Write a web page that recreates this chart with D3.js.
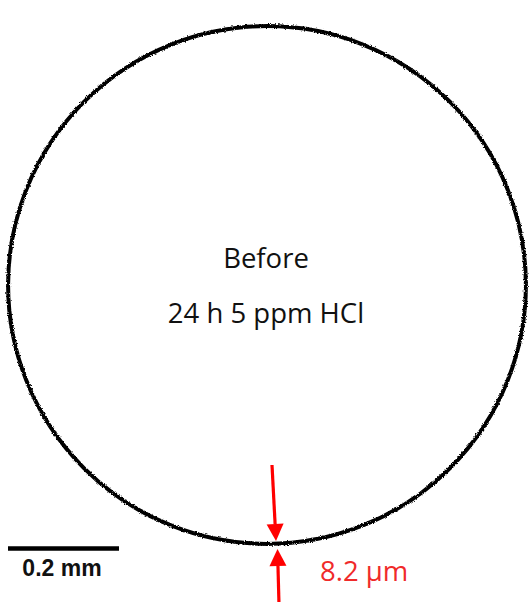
<!DOCTYPE html>
<html>
<head>
<meta charset="utf-8">
<script src="https://cdn.jsdelivr.net/npm/d3@7"></script>
<style>
  html, body { margin: 0; padding: 0; background: #fff; }
  svg { display: block; }
</style>
</head>
<body>
<div id="chart"></div>
<script>
// valeurs
const labels = ['Before', '24 h 5 ppm HCl'];
const sampleDiameterMm = [0.933];
const scaleBarMm = [0.2];
const thicknessLabel = ['8.2 \u00b5m'];

const width = 530;
const height = 602;

const svg = d3.select('#chart')
  .append('svg')
  .attr('width', width)
  .attr('height', height)
  .attr('viewBox', [0, 0, width, height]);

// échelle mm -> pixels (0.2 mm = 111 px)
const mm = d3.scaleLinear().domain([0, 0.2]).range([0, 111]);

// filtre pour le bord irrégulier
const defs = svg.append('defs');
const rough = defs.append('filter')
  .attr('id', 'rough')
  .attr('x', '-5%').attr('y', '-5%')
  .attr('width', '110%').attr('height', '110%');
rough.append('feTurbulence')
  .attr('type', 'fractalNoise')
  .attr('baseFrequency', 0.9)
  .attr('numOctaves', 2)
  .attr('seed', 3)
  .attr('result', 'noise');
rough.append('feDisplacementMap')
  .attr('in', 'SourceGraphic')
  .attr('in2', 'noise')
  .attr('scale', 3)
  .attr('xChannelSelector', 'R')
  .attr('yChannelSelector', 'G');

const cx = 267, cy = 285;

// contour de l'échantillon
svg.selectAll('circle.sample')
  .data(sampleDiameterMm)
  .enter()
  .append('circle')
  .attr('class', 'sample')
  .attr('cx', cx)
  .attr('cy', cy)
  .attr('r', d => mm(d / 2))
  .attr('fill', 'none')
  .attr('stroke', '#000')
  .attr('stroke-width', 4)
  .attr('filter', 'url(#rough)');

// textes centraux
svg.selectAll('text.label')
  .data(labels)
  .enter()
  .append('text')
  .attr('class', 'label')
  .attr('x', cx - 1)
  .attr('y', (d, i) => 268 + i * 55)
  .attr('text-anchor', 'middle')
  .style('font-family', '"Open Sans", sans-serif')
  .style('font-size', '27.5px')
  .attr('fill', '#111')
  .text(d => d);

// barre d'échelle
const bar = svg.append('g').attr('transform', 'translate(8,548.5)');
bar.selectAll('line')
  .data(scaleBarMm)
  .enter()
  .append('line')
  .attr('x1', 0)
  .attr('x2', d => mm(d))
  .attr('stroke', '#000')
  .attr('stroke-width', 4.5);
bar.selectAll('text')
  .data(scaleBarMm)
  .enter()
  .append('text')
  .attr('x', d => mm(d) / 2 - 1.5)
  .attr('y', 27)
  .attr('text-anchor', 'middle')
  .style('font-family', '"Liberation Sans", Arial, sans-serif')
  .style('font-weight', 'bold')
  .style('font-size', '23px')
  .attr('fill', '#111')
  .text(d => `${d} mm`);

// flèches rouges de l'épaisseur
function arrow(x1, y1, x2, y2) {
  const len = Math.hypot(x2 - x1, y2 - y1);
  const ux = (x2 - x1) / len, uy = (y2 - y1) / len;
  const head = 17, half = 8.5;
  const bx = x2 - ux * head, by = y2 - uy * head;
  svg.append('line')
    .attr('x1', x1).attr('y1', y1)
    .attr('x2', bx).attr('y2', by)
    .attr('stroke', '#ff0000')
    .attr('stroke-width', 3.2);
  svg.append('path')
    .attr('d', d3.line()([
      [x2, y2],
      [bx - uy * half, by + ux * half],
      [bx + uy * half, by - ux * half]
    ]) + 'Z')
    .attr('fill', '#ff0000');
}
arrow(272, 465, 276, 541);
arrow(279, 604, 277.5, 549);

svg.selectAll('text.thick')
  .data(thicknessLabel)
  .enter()
  .append('text')
  .attr('class', 'thick')
  .attr('x', 320)
  .attr('y', 581)
  .style('font-family', '"Open Sans", sans-serif')
  .style('font-size', '27.5px')
  .attr('fill', '#f02a2a')
  .text(d => d);
</script>
</body>
</html>
